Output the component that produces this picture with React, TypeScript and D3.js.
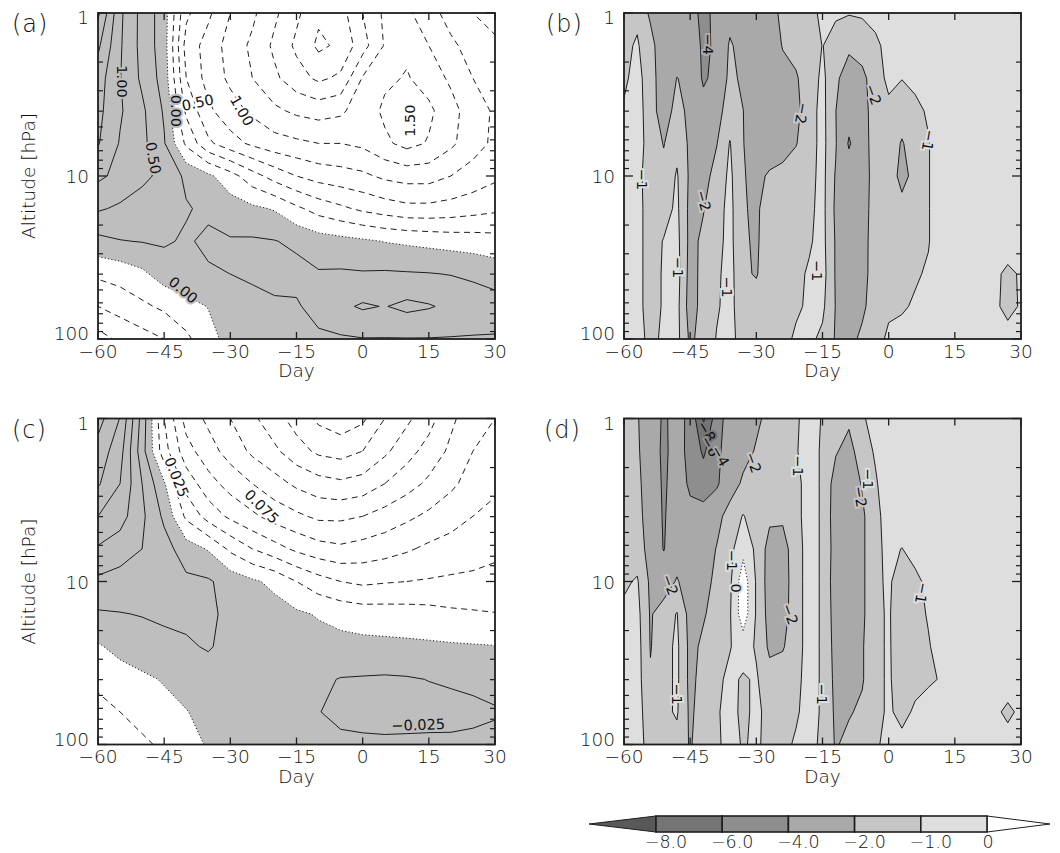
import React from "react";
import * as d3 from "d3";

// ---------------- data ----------------
const LOGP = [0, 0.2, 0.4, 0.6, 0.8, 1.0, 1.2, 1.4, 1.6, 1.8, 2.0];
const DAYS_AC = [-60, -55, -50, -45, -40, -35, -30, -25, -20, -15, -10, -5, 0, 5, 10, 15, 20, 25, 30];
const DAYS_BD = [-60, -57, -54, -51, -48, -45, -42, -39, -36, -33, -30, -27, -24, -21, -18, -15, -12, -9, -6, -3, 0, 3, 6, 9, 12, 15, 18, 21, 24, 27, 30];
const X_TICKS = [-60, -45, -30, -15, 0, 15, 30];
const Y_MAJOR = [1, 10, 100];
const Y_MINOR = [2, 3, 4, 5, 6, 7, 8, 9, 20, 30, 40, 50, 60, 70, 80, 90];

const FIELD_A = [
  [1.55, 0.8, 0.42, 0.12, -0.7, -0.95, -1.25, -1.45, -1.7, -1.95, -2.2, -2.1, -1.75, -1.45, -1.3, -1.1, -0.9, -0.75, -0.65],
  [1.3, 0.78, 0.42, 0.12, -0.85, -1.1, -1.35, -1.55, -1.8, -2.05, -2.3, -2.2, -1.85, -1.48, -1.45, -1.25, -1.05, -0.9, -0.8],
  [1.12, 0.76, 0.45, 0.15, -0.75, -1.1, -1.3, -1.5, -1.7, -1.9, -2.05, -1.95, -1.48, -1.45, -1.52, -1.4, -1.2, -1.0, -0.9],
  [1.07, 0.78, 0.55, 0.22, -0.55, -0.95, -1.15, -1.3, -1.45, -1.55, -1.6, -1.55, -1.35, -1.55, -1.68, -1.55, -1.35, -1.1, -0.97],
  [1.02, 0.73, 0.57, 0.27, -0.3, -0.7, -0.9, -1.05, -1.15, -1.2, -1.25, -1.25, -1.3, -1.45, -1.58, -1.48, -1.3, -1.1, -0.95],
  [0.8, 0.68, 0.56, 0.43, 0.2, 0.05, -0.15, -0.4, -0.6, -0.75, -0.85, -0.9, -0.95, -1.05, -1.1, -1.1, -1.0, -0.9, -0.8],
  [0.53, 0.46, 0.38, 0.33, 0.27, 0.2, 0.12, 0.05, -0.02, -0.2, -0.35, -0.45, -0.55, -0.62, -0.68, -0.68, -0.65, -0.6, -0.55],
  [0.18, 0.24, 0.26, 0.28, 0.22, 0.3, 0.27, 0.28, 0.26, 0.2, 0.12, 0.08, 0.04, -0.01, -0.04, -0.07, -0.1, -0.12, -0.15],
  [-0.2, -0.15, -0.05, 0.12, 0.2, 0.22, 0.251, 0.3, 0.35, 0.33, 0.27, 0.28, 0.27, 0.28, 0.27, 0.26, 0.24, 0.2, 0.14],
  [-0.5, -0.4, -0.3, -0.2, -0.1, 0.01, 0.1, 0.15, 0.2, 0.22, 0.35, 0.45, 0.53, 0.49, 0.56, 0.52, 0.45, 0.4, 0.36],
  [-0.85, -0.7, -0.6, -0.5, -0.3, -0.1, 0.1, 0.12, 0.15, 0.17, 0.2, 0.22, 0.24, 0.24, 0.24, 0.24, 0.235, 0.23, 0.23],
];

const FIELD_C = [
  [-0.16, -0.124, -0.04, 0.05, 0.11, 0.13, 0.15, 0.17, 0.19, 0.21, 0.23, 0.24, 0.23, 0.2, 0.18, 0.16, 0.13, 0.11, 0.1],
  [-0.14, -0.11, -0.035, 0.04, 0.09, 0.115, 0.135, 0.155, 0.17, 0.19, 0.205, 0.21, 0.2, 0.18, 0.16, 0.14, 0.12, 0.1, 0.09],
  [-0.128, -0.1, -0.05, -0.003, 0.06, 0.09, 0.11, 0.125, 0.14, 0.155, 0.165, 0.17, 0.165, 0.15, 0.135, 0.12, 0.105, 0.09, 0.08],
  [-0.1, -0.085, -0.055, -0.02, 0.03, 0.06, 0.08, 0.095, 0.11, 0.12, 0.13, 0.13, 0.125, 0.115, 0.105, 0.095, 0.085, 0.075, 0.068],
  [-0.072, -0.062, -0.05, -0.035, -0.012, 0.002, 0.03, 0.05, 0.065, 0.08, 0.09, 0.095, 0.09, 0.085, 0.078, 0.07, 0.065, 0.06, 0.055],
  [-0.045, -0.04, -0.036, -0.03, -0.03, -0.028, -0.015, -0.004, 0.006, 0.025, 0.04, 0.05, 0.055, 0.052, 0.05, 0.048, 0.046, 0.045, 0.043],
  [-0.022, -0.024, -0.026, -0.028, -0.03, -0.029, -0.02, -0.015, -0.01, -0.004, 0.002, 0.008, 0.012, 0.013, 0.014, 0.016, 0.02, 0.022, 0.024],
  [0.003, -0.008, -0.015, -0.02, -0.022, -0.027, -0.018, -0.015, -0.012, -0.01, -0.009, -0.008, -0.007, -0.006, -0.005, -0.004, -0.003, -0.002, -0.001],
  [0.018, 0.012, 0.005, -0.002, -0.01, -0.014, -0.015, -0.016, -0.017, -0.019, -0.021, -0.026, -0.027, -0.028, -0.027, -0.0245, -0.023, -0.022, -0.021],
  [0.035, 0.025, 0.015, 0.008, 0.001, -0.008, -0.012, -0.014, -0.017, -0.019, -0.024, -0.033, -0.034, -0.034, -0.033, -0.032, -0.03, -0.028, -0.026],
  [0.05, 0.04, 0.03, 0.02, 0.008, -0.002, -0.008, -0.01, -0.012, -0.014, -0.016, -0.018, -0.02, -0.021, -0.021, -0.021, -0.022, -0.022, -0.022],
];

const FIELD_B = [
  [-1.3, -1.2, -2.2, -3.0, -3.2, -3.3, -4.5, -3.5, -2.6, -3.0, -3.1, -2.5, -1.7, -1.6, -1.3, -0.8, -0.9, -0.95, -0.9, -0.7, -0.5, -0.5, -0.5, -0.5, -0.5, -0.5, -0.5, -0.5, -0.5, -0.5, -0.5],
  [-1.2, -0.9, -1.6, -2.8, -2.6, -2.3, -4.5, -3.6, -1.8, -2.6, -3.1, -3.0, -1.9, -1.7, -1.4, -0.98, -1.3, -1.7, -1.5, -1.2, -0.7, -0.5, -0.5, -0.5, -0.5, -0.5, -0.5, -0.5, -0.5, -0.5, -0.5],
  [-1.15, -0.7, -1.5, -2.7, -1.98, -2.2, -4.3, -3.4, -1.6, -2.3, -3.0, -3.1, -2.6, -2.1, -1.5, -0.8, -1.7, -2.8, -2.3, -1.4, -0.8, -0.98, -0.8, -0.6, -0.5, -0.5, -0.5, -0.5, -0.5, -0.5, -0.5],
  [-0.9, -0.6, -1.5, -2.6, -1.6, -2.3, -3.2, -2.4, -1.5, -1.98, -2.9, -3.0, -2.8, -2.3, -1.4, -0.7, -1.98, -3.2, -2.6, -1.3, -1.2, -1.4, -1.2, -0.9, -0.5, -0.5, -0.5, -0.5, -0.5, -0.5, -0.5],
  [-0.6, -0.6, -1.4, -2.05, -1.3, -2.2, -2.9, -2.05, -0.95, -1.95, -2.8, -2.9, -2.7, -2.05, -1.4, -0.7, -1.9, -4.2, -2.7, -1.3, -1.3, -2.1, -1.4, -1.05, -0.5, -0.5, -0.5, -0.5, -0.5, -0.5, -0.5],
  [-0.6, -0.7, -1.5, -1.7, -0.9, -2.2, -2.4, -1.6, -0.8, -1.9, -2.4, -1.8, -1.5, -1.5, -1.3, -0.7, -2.1, -3.0, -2.6, -1.5, -1.3, -2.4, -1.6, -1.05, -0.5, -0.5, -0.5, -0.5, -0.5, -0.5, -0.5],
  [-0.6, -0.7, -1.4, -1.4, -0.8, -2.3, -2.05, -1.4, -0.7, -1.95, -2.1, -1.7, -1.5, -1.4, -1.2, -0.7, -2.2, -2.9, -2.5, -1.5, -1.4, -1.6, -1.5, -1.05, -0.5, -0.5, -0.5, -0.5, -0.5, -0.5, -0.5],
  [-0.6, -0.7, -1.4, -0.95, -0.7, -2.3, -1.8, -1.3, -0.7, -1.9, -2.1, -1.6, -1.4, -1.3, -1.1, -0.7, -2.1, -2.8, -2.4, -1.5, -1.4, -1.4, -1.3, -1.05, -0.5, -0.5, -0.5, -0.5, -0.5, -0.5, -0.5],
  [-0.6, -0.7, -1.4, -0.9, -0.6, -2.4, -1.7, -1.2, -0.6, -1.9, -2.05, -1.6, -1.4, -1.2, -0.9, -0.6, -2.1, -2.8, -2.3, -1.6, -1.3, -1.15, -1.1, -0.9, -0.6, -0.5, -0.5, -0.5, -0.8, -1.2, -0.9],
  [-0.6, -0.7, -1.4, -0.9, -0.7, -2.5, -1.6, -1.1, -0.7, -1.6, -1.7, -1.5, -1.3, -1.1, -0.9, -0.8, -2.05, -2.6, -2.2, -1.5, -1.1, -1.1, -0.9, -0.7, -0.5, -0.5, -0.5, -0.5, -0.8, -1.3, -0.9],
  [-0.6, -0.6, -1.3, -0.8, -0.7, -2.2, -1.6, -0.95, -0.7, -1.4, -1.5, -1.4, -1.2, -0.9, -0.8, -1.2, -2.1, -2.3, -1.8, -1.2, -0.9, -0.7, -0.6, -0.6, -0.6, -0.6, -0.6, -0.6, -0.6, -0.6, -0.6],
];

const FIELD_D = [
  [-1.1, -1.9, -2.8, -4.3, -3.3, -4.5, -8.3, -5.0, -3.0, -2.7, -2.2, -1.7, -1.6, -1.1, -0.7, -1.05, -1.8, -1.8, -1.1, -0.7, -0.5, -0.5, -0.5, -0.5, -0.5, -0.5, -0.5, -0.5, -0.5, -0.5, -0.5],
  [-1.2, -1.8, -2.9, -4.4, -3.2, -4.6, -6.3, -4.6, -2.8, -2.4, -1.9, -1.6, -1.5, -1.05, -0.7, -1.1, -1.9, -2.4, -1.4, -0.9, -0.5, -0.5, -0.5, -0.5, -0.5, -0.5, -0.5, -0.5, -0.5, -0.5, -0.5],
  [-1.3, -1.7, -2.7, -4.3, -3.1, -4.3, -5.0, -4.3, -2.6, -1.8, -1.6, -1.5, -1.5, -1.2, -0.7, -1.1, -2.5, -2.8, -1.9, -1.1, -0.5, -0.5, -0.5, -0.5, -0.5, -0.5, -0.5, -0.5, -0.5, -0.5, -0.5],
  [-1.3, -1.6, -2.6, -4.2, -2.9, -3.5, -3.2, -2.4, -1.5, -0.95, -1.4, -1.8, -1.8, -1.2, -0.7, -1.1, -2.6, -2.9, -2.2, -1.2, -0.7, -0.5, -0.5, -0.5, -0.5, -0.5, -0.5, -0.5, -0.5, -0.5, -0.5],
  [-1.2, -1.5, -2.4, -4.1, -2.6, -3.0, -2.6, -1.95, -1.3, -0.3, -1.2, -2.4, -2.5, -1.3, -0.7, -1.1, -2.5, -2.8, -2.2, -1.2, -0.8, -1.02, -0.7, -0.5, -0.5, -0.5, -0.5, -0.5, -0.5, -0.5, -0.5],
  [-1.15, -0.9, -2.2, -2.6, -1.9, -2.6, -2.3, -1.8, -1.2, 0.6, -1.1, -2.5, -2.6, -1.3, -0.7, -1.1, -2.6, -2.9, -2.2, -1.2, -0.85, -1.5, -1.2, -0.8, -0.5, -0.5, -0.5, -0.5, -0.5, -0.5, -0.5],
  [-0.8, -0.7, -2.1, -1.5, -0.95, -2.4, -2.1, -1.6, -1.1, 0.6, -1.1, -2.4, -2.5, -1.3, -0.7, -1.1, -2.5, -2.8, -2.2, -1.2, -0.9, -1.6, -1.4, -0.9, -0.5, -0.5, -0.5, -0.5, -0.5, -0.5, -0.5],
  [-0.7, -0.6, -2.05, -1.4, -0.8, -2.3, -1.8, -1.3, -1.05, -0.6, -1.1, -2.2, -2.1, -1.3, -0.7, -1.1, -2.4, -2.7, -2.1, -1.2, -0.9, -1.5, -1.4, -1.1, -0.5, -0.5, -0.5, -0.5, -0.5, -0.5, -0.5],
  [-0.7, -0.6, -1.9, -1.4, -0.8, -2.3, -1.6, -1.2, -0.8, -1.1, -0.9, -1.6, -1.4, -1.2, -0.7, -1.1, -2.3, -2.6, -2.1, -1.2, -0.9, -1.4, -1.2, -1.1, -0.95, -0.5, -0.5, -0.5, -0.5, -0.5, -0.5],
  [-0.7, -0.8, -1.3, -1.2, -0.9, -2.2, -1.5, -1.1, -0.7, -1.2, -0.8, -1.3, -1.2, -1.1, -0.7, -1.1, -2.2, -2.1, -1.8, -1.2, -0.9, -1.2, -0.9, -0.7, -0.5, -0.5, -0.5, -0.5, -0.8, -1.2, -0.8],
  [-0.6, -0.8, -1.2, -1.3, -1.3, -2.1, -1.4, -1.1, -0.8, -1.05, -0.9, -1.2, -1.2, -0.9, -0.7, -1.2, -2.1, -1.7, -1.4, -1.1, -0.8, -0.8, -0.6, -0.6, -0.6, -0.6, -0.6, -0.6, -0.6, -0.6, -0.6],
];

const LEVELS_A = [-2.25, -2, -1.75, -1.5, -1.25, -1, -0.75, -0.5, -0.25, 0, 0.25, 0.5, 0.75, 1, 1.25, 1.5];
const LEVELS_C = [-0.15, -0.125, -0.1, -0.075, -0.05, -0.025, 0, 0.025, 0.05, 0.075, 0.1, 0.125, 0.15, 0.175, 0.2, 0.225];
const LEVELS_BD = [0, -1, -2, -4, -6, -8];
const COLORS_BD = ["#dedede", "#c6c6c6", "#a9a9a9", "#8e8e8e", "#747474", "#585858"];
const COLORBAR_LABELS = ["\u22128.0", "\u22126.0", "\u22124.0", "\u22122.0", "\u22121.0", "0"];
const GRAY = "#bebebe";

type Lab = { t: string; d: number; lp: number; r: number; bg: string };
const LABELS_A: Lab[] = [
  { t: "1.00", d: -54.6, lp: 0.42, r: 90, bg: GRAY },
  { t: "0.50", d: -47.5, lp: 0.89, r: 80, bg: GRAY },
  { t: "0.00", d: -42.3, lp: 0.6, r: 90, bg: GRAY },
  { t: "0.50", d: -37.4, lp: 0.55, r: -12, bg: "#fff" },
  { t: "1.00", d: -27.4, lp: 0.6, r: 60, bg: "#fff" },
  { t: "1.50", d: 10.7, lp: 0.66, r: -90, bg: "#fff" },
  { t: "0.00", d: -40.7, lp: 1.7, r: 40, bg: GRAY },
];
const LABELS_C: Lab[] = [
  { t: "0.025", d: -42.2, lp: 0.36, r: 68, bg: "#fff" },
  { t: "0.075", d: -22.9, lp: 0.54, r: 45, bg: "#fff" },
  { t: "\u22120.025", d: 12.6, lp: 1.88, r: -2, bg: GRAY },
];
const LABELS_B: Lab[] = [
  { t: "\u22124", d: -40.9, lp: 0.19, r: 90, bg: "#a9a9a9" },
  { t: "\u22122", d: -19.7, lp: 0.615, r: 100, bg: "#c6c6c6" },
  { t: "\u22122", d: -42, lp: 1.15, r: 75, bg: "#c6c6c6" },
  { t: "\u22121", d: -56, lp: 1.02, r: 90, bg: "#dedede" },
  { t: "\u22122", d: -3.5, lp: 0.5, r: 70, bg: "#c6c6c6" },
  { t: "\u22121", d: 9, lp: 0.78, r: 100, bg: "#dedede" },
  { t: "\u22121", d: -47.7, lp: 1.56, r: 90, bg: "#dedede" },
  { t: "\u22121", d: -36.7, lp: 1.68, r: 90, bg: "#dedede" },
  { t: "\u22121", d: -16.3, lp: 1.58, r: 90, bg: "#dedede" },
];
const LABELS_D: Lab[] = [
  { t: "\u22128", d: -41.3, lp: 0.08, r: 60, bg: "#747474" },
  { t: "\u22126", d: -40.5, lp: 0.17, r: 60, bg: "#8e8e8e" },
  { t: "\u22124", d: -38.2, lp: 0.23, r: 60, bg: "#a9a9a9" },
  { t: "\u22122", d: -30.7, lp: 0.27, r: 70, bg: "#c6c6c6" },
  { t: "\u22121", d: -20.5, lp: 0.29, r: 90, bg: "#dedede" },
  { t: "\u22121", d: -4.6, lp: 0.37, r: 90, bg: "#dedede" },
  { t: "\u22122", d: -6.5, lp: 0.48, r: 80, bg: "#c6c6c6" },
  { t: "\u22122", d: -49.6, lp: 1.02, r: 70, bg: "#c6c6c6" },
  { t: "0", d: -34.5, lp: 1.04, r: 90, bg: "#dedede" },
  { t: "\u22121", d: -35.6, lp: 0.87, r: 90, bg: "#dedede" },
  { t: "\u22122", d: -22.4, lp: 1.2, r: 70, bg: "#c6c6c6" },
  { t: "\u22121", d: 7.5, lp: 1.07, r: 100, bg: "#dedede" },
  { t: "\u22121", d: -48, lp: 1.69, r: 90, bg: "#dedede" },
  { t: "\u22121", d: -15.2, lp: 1.69, r: 90, bg: "#dedede" },
];

// ---------------- layout ----------------
const PW = 397;
const PH = 326;
const FONT = "'DejaVu Sans', sans-serif";
const FW = 300;
const INK = "#1e1e1e";
const TXT = "#111";
const AX_FS = 18.5;

type PanelProps = {
  id: string;
  left: number;
  top: number;
  tag: string;
  tagX: number;
  days: number[];
  field: number[][];
  kind: "A" | "C" | "fill";
  levels: number[];
  labels: Lab[];
  yTitle: boolean;
};

function fmt(v: number) {
  return String(v).replace("-", "\u2212");
}

function Panel(p: PanelProps) {
  const { id, left, top, days, field, kind, levels, labels } = p;
  const x = d3.scaleLinear().domain([-60, 30]).range([left, left + PW]);
  const y = d3.scaleLog().domain([1, 100]).range([top, top + PH]);
  const n = days.length;
  const m = LOGP.length;
  const dx = days[1] - days[0];
  const dl = LOGP[1] - LOGP[0];
  const proj = d3.geoTransform({
    point(this: any, px: number, py: number) {
      this.stream.point(x(days[0] + (px - 0.5) * dx), y(Math.pow(10, LOGP[0] + (py - 0.5) * dl)));
    },
  });
  const path = d3.geoPath(proj as any);
  const flat = field.flat();
  const EPS = 1e-7;
  const gen = d3.contours().size([n, m]);

  let fills: { d: string; c: string }[] = [];
  let lines: { d: string; dash?: string }[] = [];
  if (kind === "fill") {
    const neg = flat.map((v) => -v);
    const th = levels.map((l) => -l + EPS);
    const cs = gen.thresholds(th)(neg);
    fills = cs.map((c, i) => ({ d: path(c as any) || "", c: COLORS_BD[i] }));
    lines = cs.map((c, i) => ({ d: path(c as any) || "", dash: levels[i] === 0 ? "1.2,2.2" : undefined }));
  } else {
    const sgn = kind === "A" ? 1 : -1;
    const g = gen.thresholds([EPS])(flat.map((v) => sgn * v))[0];
    fills = [{ d: path(g as any) || "", c: GRAY }];
    const cs = gen.thresholds(levels.map((l) => l + EPS))(flat);
    lines = cs.map((c, i) => {
      const l = levels[i];
      const solid = kind === "A" ? l > 0 : l < 0;
      return { d: path(c as any) || "", dash: Math.abs(l) < 1e-9 ? "1.2,2.2" : solid ? undefined : "6,4.5" };
    });
  }

  const bottom = top + PH;
  const right = left + PW;
  return (
    <g>
      <defs>
        <clipPath id={`clip-${id}`}>
          <rect x={left} y={top} width={PW} height={PH} />
        </clipPath>
      </defs>
      <g clipPath={`url(#clip-${id})`}>
        <rect x={left} y={top} width={PW} height={PH} fill="#fff" />
        {fills.map((f, i) => (
          <path key={`f${i}`} d={f.d} fill={f.c} stroke="none" />
        ))}
        {lines.map((l, i) => (
          <path key={`l${i}`} d={l.d} fill="none" stroke={INK} strokeWidth={1} strokeDasharray={l.dash} />
        ))}
        {labels.map((lb, i) => (
          <g key={`t${i}`} transform={`translate(${x(lb.d)},${y(Math.pow(10, lb.lp))}) rotate(${lb.r})`}>
            <text
              textAnchor="middle"
              dominantBaseline="central"
              fontFamily={FONT}
              fontSize={14.5}
              fill="none"
              stroke={lb.bg}
              strokeWidth={4}
            >
              {lb.t}
            </text>
            <text textAnchor="middle" dominantBaseline="central" fontFamily={FONT} fontSize={14.5} fill={TXT}>
              {lb.t}
            </text>
          </g>
        ))}
      </g>
      {X_TICKS.map((t) => (
        <g key={`xt${t}`}>
          <line x1={x(t)} x2={x(t)} y1={bottom} y2={bottom - 7} stroke={INK} strokeWidth={1.3} />
          <line x1={x(t)} x2={x(t)} y1={top} y2={top + 7} stroke={INK} strokeWidth={1.3} />
          <text x={x(t)} y={bottom + 18.5} textAnchor="middle" fontFamily={FONT} fontWeight={FW} fontSize={AX_FS} fill={TXT}>
            {fmt(t)}
          </text>
        </g>
      ))}
      {Y_MAJOR.map((t) => (
        <g key={`ym${t}`}>
          <line x1={left} x2={left + 9} y1={y(t)} y2={y(t)} stroke={INK} strokeWidth={1.3} />
          <line x1={right} x2={right - 9} y1={y(t)} y2={y(t)} stroke={INK} strokeWidth={1.3} />
          <text
            x={left - 9}
            y={t === 1 ? y(t) + 11 : t === 100 ? y(t) + 1 : y(t) + 7}
            textAnchor="end"
            fontFamily={FONT}
            fontWeight={FW}
            fontSize={AX_FS}
            fill={TXT}
          >
            {t}
          </text>
        </g>
      ))}
      {Y_MINOR.map((t) => (
        <g key={`yn${t}`}>
          <line x1={left} x2={left + 5} y1={y(t)} y2={y(t)} stroke={INK} strokeWidth={1.2} />
          <line x1={right} x2={right - 5} y1={y(t)} y2={y(t)} stroke={INK} strokeWidth={1.2} />
        </g>
      ))}
      <rect x={left} y={top} width={PW} height={PH} fill="none" stroke={INK} strokeWidth={1.8} />
      <text x={(left + right) / 2} y={bottom + 38} textAnchor="middle" fontFamily={FONT} fontWeight={FW} fontSize={AX_FS} fill={TXT}>
        Day
      </text>
      <text x={p.tagX} y={top + 19} fontFamily={FONT} fontWeight={FW} fontSize={24} fill={TXT} letterSpacing={1}>
        {p.tag}
      </text>
      {p.yTitle && (
        <text
          transform={`translate(35,${top + PH / 2}) rotate(-90)`}
          textAnchor="middle"
          fontFamily={FONT}
          fontWeight={FW}
          fontSize={AX_FS}
          fill={TXT}
        >
          Altitude [hPa]
        </text>
      )}
    </g>
  );
}

function ColorBar() {
  const cb = d3.scaleLinear().domain([0, 5]).range([656, 987]);
  const top = 816;
  const bot = 832;
  const mid = (top + bot) / 2;
  const boxColors = COLORS_BD.slice(0, 5).reverse();
  return (
    <g>
      <polygon points={`589,${mid} ${cb(0)},${top} ${cb(0)},${bot}`} fill={COLORS_BD[5]} stroke={INK} strokeWidth={1} />
      <polygon points={`${cb(5)},${top} 1050,${mid} ${cb(5)},${bot}`} fill="#fff" stroke={INK} strokeWidth={1} />
      {boxColors.map((c, i) => (
        <rect key={i} x={cb(i)} y={top} width={cb(i + 1) - cb(i)} height={bot - top} fill={c} stroke={INK} strokeWidth={1.6} />
      ))}
      {COLORBAR_LABELS.map((t, i) => (
        <text
          key={t}
          x={cb(i) + (t.startsWith("\u2212") ? 10 : 1)}
          y={848}
          textAnchor="middle"
          fontFamily={FONT}
          fontWeight={FW}
          fontSize={17.5}
          fill={TXT}
        >
          {t}
        </text>
      ))}
    </g>
  );
}

export default function App() {
  return (
    <svg
      width={1060}
      height={853}
      viewBox="0 0 1060 853"
      style={{ position: "absolute", left: 0, top: 0, background: "#fff" }}
    >
      <Panel id="a" left={98} top={13} tag="(a)" tagX={12} days={DAYS_AC} field={FIELD_A} kind="A" levels={LEVELS_A} labels={LABELS_A} yTitle={true} />
      <Panel id="b" left={624} top={13} tag="(b)" tagX={546} days={DAYS_BD} field={FIELD_B} kind="fill" levels={LEVELS_BD} labels={LABELS_B} yTitle={false} />
      <Panel id="c" left={98} top={418.5} tag="(c)" tagX={12} days={DAYS_AC} field={FIELD_C} kind="C" levels={LEVELS_C} labels={LABELS_C} yTitle={true} />
      <Panel id="d" left={624} top={418.5} tag="(d)" tagX={544} days={DAYS_BD} field={FIELD_D} kind="fill" levels={LEVELS_BD} labels={LABELS_D} yTitle={false} />
      <ColorBar />
    </svg>
  );
}
